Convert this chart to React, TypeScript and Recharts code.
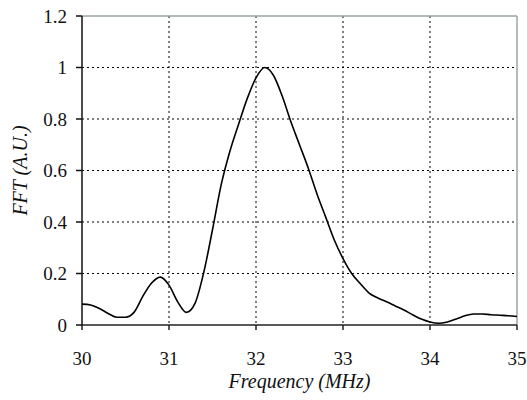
import { LineChart, Line, XAxis, YAxis, CartesianGrid, ReferenceLine } from 'recharts'

const freq = [
  30.0, 30.1, 30.2, 30.3, 30.4, 30.5, 30.6, 30.7, 30.8, 30.9,
  31.0, 31.1, 31.2, 31.3, 31.4, 31.5, 31.6, 31.7, 31.8, 31.9,
  32.0, 32.1, 32.2, 32.3, 32.4, 32.5, 32.6, 32.7, 32.8, 32.9,
  33.0, 33.1, 33.2, 33.3, 33.4, 33.5, 33.6, 33.7, 33.8, 33.9,
  34.0, 34.1, 34.2, 34.3, 34.4, 34.5, 34.6, 34.7, 34.8, 34.9, 35.0,
]
const fft = [
  0.081, 0.078, 0.064, 0.045, 0.030, 0.030, 0.050, 0.112, 0.163, 0.186,
  0.155, 0.090, 0.049, 0.085, 0.205, 0.370, 0.545, 0.675, 0.780, 0.880,
  0.960, 1.000, 0.970, 0.890, 0.790, 0.700, 0.610, 0.510, 0.420, 0.330,
  0.258, 0.200, 0.160, 0.124, 0.105, 0.090, 0.074, 0.058, 0.040, 0.023,
  0.012, 0.007, 0.012, 0.023, 0.036, 0.043, 0.043, 0.040, 0.038, 0.036, 0.033,
]
const xTicks = [30, 31, 32, 33, 34, 35]
const yTicks = [0, 0.2, 0.4, 0.6, 0.8, 1, 1.2]

const data = freq.map((f, i) => ({ f, v: fft[i] }))

const textStyle = { fontFamily: 'Liberation Serif, serif', fontSize: 19, fill: '#111' }

const XTick = ({ x, y, payload }: any) => (
  <text x={x} y={y + 19} textAnchor="middle" dominantBaseline="hanging" style={textStyle}>
    {payload.value}
  </text>
)

const YTick = ({ x, y, payload }: any) => (
  <text x={x - 7} y={y} textAnchor="end" dominantBaseline="central" style={textStyle}>
    {payload.value}
  </text>
)

export default function App() {
  return (
    <div style={{ position: 'absolute', left: 0, top: 0, background: '#fff' }}>
      <LineChart width={527} height={400} data={data} margin={{ top: 16, right: 10, bottom: 0, left: 0 }}>
        <CartesianGrid
          stroke="#000"
          strokeDasharray="2 3"
          horizontalValues={[0.2, 0.4, 0.6, 0.8, 1]}
          verticalValues={[31, 32, 33, 34]}
        />
        <ReferenceLine y={1.2} stroke="#9aa5a5" strokeWidth={1.5} />
        <ReferenceLine x={35} stroke="#9aa5a5" strokeWidth={1.5} />
        <XAxis
          dataKey="f"
          type="number"
          domain={[30, 35]}
          ticks={xTicks}
          height={75}
          stroke="#222"
          strokeWidth={1.5}
          tickSize={5}
          tick={<XTick />}
          label={{
            value: 'Frequency (MHz)',
            position: 'insideBottom',
            offset: 12,
            style: { ...textStyle, fontSize: 20, fontStyle: 'italic' },
          }}
        />
        <YAxis
          type="number"
          domain={[0, 1.2]}
          ticks={yTicks}
          width={82}
          stroke="#111"
          strokeWidth={1.5}
          tickSize={6}
          tick={<YTick />}
          label={{
            value: 'FFT (A.U.)',
            angle: -90,
            position: 'insideLeft',
            offset: 20,
            style: { ...textStyle, fontSize: 20, textAnchor: 'middle', fontStyle: 'italic' },
          }}
        />
        <Line type="monotone" dataKey="v" stroke="#000" strokeWidth={1.6} dot={false} isAnimationActive={false} />
      </LineChart>
    </div>
  )
}
